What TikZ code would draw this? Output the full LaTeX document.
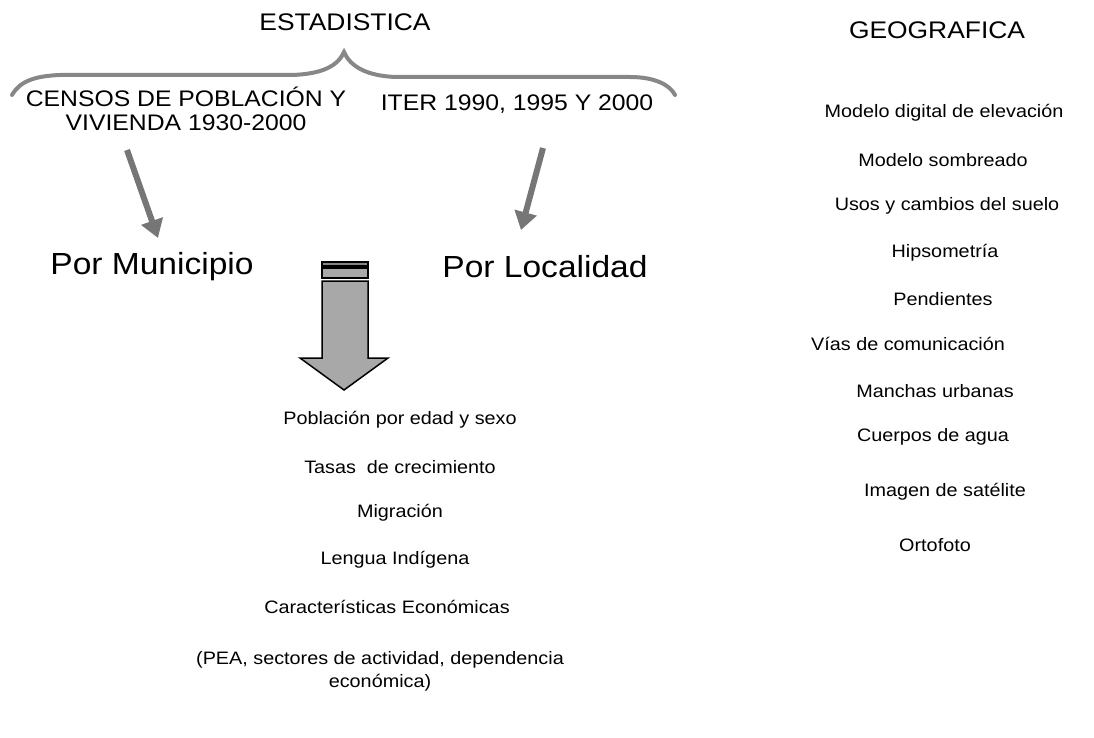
\documentclass[tikz,border=0pt]{standalone}
\usepackage{fontspec}
\setmainfont[FakeStretch=1.1]{Liberation Sans}
\usetikzlibrary{arrows.meta}
\definecolor{bracegray}{RGB}{135,135,135}
\definecolor{arrowgray}{RGB}{118,118,118}
\definecolor{bigfill}{RGB}{168,168,168}

\begin{document}
\begin{tikzpicture}[
    x=1pt, y=-1pt,
    title/.style={font=\fontsize{24}{28}\selectfont,inner sep=0pt},
    source/.style={font=\fontsize{22.5}{24}\selectfont,align=center,inner sep=0pt},
    level/.style={font=\fontsize{30.5}{34}\selectfont,inner sep=0pt},
    item/.style={font=\fontsize{18}{23}\selectfont,align=center,inner sep=0pt},
    thinarrow/.style={-{Triangle[width=22pt,length=18pt]},line width=6pt,arrowgray},
    >=Stealth
]
\useasboundingbox (0,0) rectangle (1094,738);

% titles
\node[title] (est) at (345,22) {ESTADISTICA};
\node[title] (geo) at (937,30) {GEOGRAFICA};

% brace
\draw[bracegray,line width=4pt,line cap=round]
  (12,95) .. controls (20,81) and (35,76) .. (60,75) -- (292,75)
  .. controls (322,74) and (338,66) .. (344,52)
  .. controls (350,66) and (366,76) .. (396,77) -- (630,77)
  .. controls (655,77) and (670,85) .. (675,95);

% sources
\node[source] (censos) at (186,109) {CENSOS DE POBLACIÓN Y\\VIVIENDA 1930-2000};
\node[source] (iter) at (517,104) {ITER 1990, 1995 Y 2000};
\node[level] (mun) at (152,267) {Por Municipio};
\node[level] (loc) at (545,267) {Por Localidad};

\coordinate (c1) at (127,150);
\coordinate (m1) at (158,238);
\coordinate (i1) at (543,148);
\coordinate (l1) at (521,230);
\draw[thinarrow] (c1) -- (m1);
\draw[thinarrow] (i1) -- (l1);

% big arrow
\draw[black,line width=1.2pt,fill=bigfill!80!black] (322,262) rectangle (368,266);
\draw[black,line width=1.2pt,fill=bigfill] (322,268) rectangle (368,278);
\draw[black,line width=1.5pt,fill=bigfill,line join=miter]
  (322,281) -- (368,281) -- (368,358) -- (388,358) -- (344,390)
  -- (300,358) -- (322,358) -- cycle;

% estadistica items
\node[item] (pob) at (400,420) {Población por edad y sexo};
\node[item] (tasa) at (400,467) {Tasas\ \ de crecimiento};
\node[item] (mig) at (400,513) {Migración};
\node[item] (len) at (395,560) {Lengua Indígena};
\node[item] (eco) at (387,607) {Características Económicas};
\node[item] (pea) at (380,671) {(PEA, sectores de actividad, dependencia\\económica)};

% geografica items
\node[item] (mde) at (944,113) {Modelo digital de elevación};
\node[item] (som) at (943,160) {Modelo sombreado};
\node[item] (uso) at (947,206) {Usos y cambios del suelo};
\node[item] (hip) at (945,253) {Hipsometría};
\node[item] (pen) at (943,299) {Pendientes};
\node[item] (vias) at (908,344) {Vías de comunicación};
\node[item] (man) at (935,391) {Manchas urbanas};
\node[item] (agua) at (933,437) {Cuerpos de agua};
\node[item] (sat) at (945,492) {Imagen de satélite};
\node[item] (orto) at (935,545) {Ortofoto};
\end{tikzpicture}
\end{document}
